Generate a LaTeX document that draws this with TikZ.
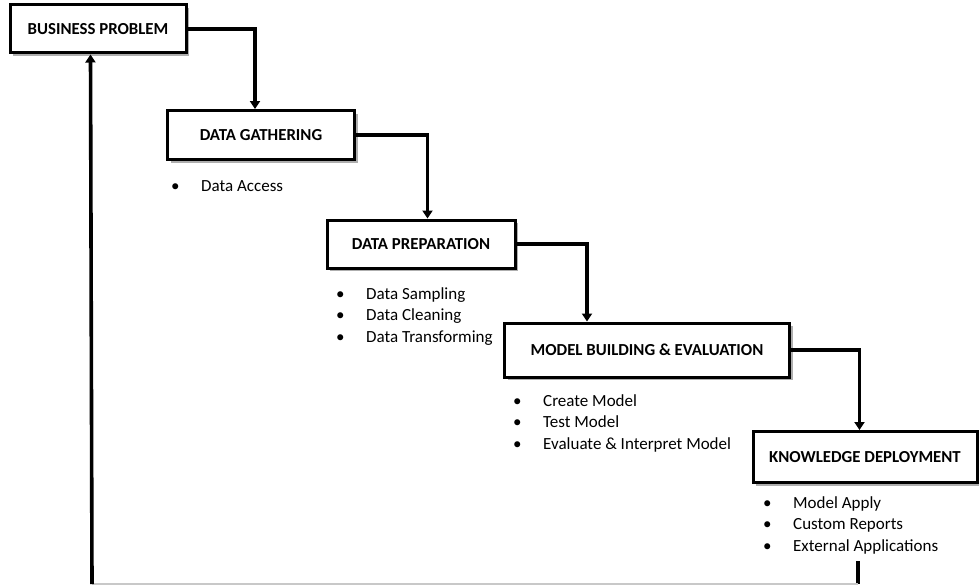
\documentclass[tikz,border=0pt]{standalone}
\usepackage{fontspec}
\setmainfont{Carlito}
\usepackage{tikz}
\usetikzlibrary{arrows.meta,positioning,calc,shadows}
\definecolor{boxshade}{HTML}{9A9A9A}
\definecolor{retgray}{HTML}{C8C8C8}
\newcommand{\bitem}[1]{\makebox[30pt][l]{\textbullet}#1}
\tikzset{stage/.style={draw=black,line width=3pt,fill=white,inner sep=2pt,
  font=\fontsize{16.8}{18}\selectfont\bfseries,
  drop shadow={shadow xshift=3pt,shadow yshift=-3pt,fill=boxshade,opacity=0.8}},
  flow/.style={line width=3.6pt,-{Triangle[length=8pt,width=10pt]}},
  items/.style={anchor=north west,align=left,inner sep=0pt,
  font=\fontsize{17}{21.5}\selectfont}}

\begin{document}
\begin{tikzpicture}[x=1pt,y=-1pt]
 \useasboundingbox (0,0) rectangle (979,586);
 \node[stage,minimum width=176,minimum height=48] (bp) at (98,29) {BUSINESS PROBLEM};
 \node[stage,minimum width=187,minimum height=49] (dg) at (261,135) {DATA GATHERING};
 \node[stage,minimum width=188,minimum height=48] (dp) at (421,244) {DATA PREPARATION};
 \node[stage,minimum width=285,minimum height=54] (mb) at (647,350) {MODEL BUILDING \& EVALUATION};
 \node[stage,minimum width=224,minimum height=51] (kd) at (865,457) {KNOWLEDGE DEPLOYMENT};
 % bullet lists under the boxes
 \node[items] (dgl) at (171,180) {\bitem{Data Access}};
 \node[items] (dpl) at (336,287) {\bitem{Data Sampling}\\\bitem{Data Cleaning}\\\bitem{Data Transforming}};
 \node[items] (mbl) at (513,394) {\bitem{Create Model}\\\bitem{Test Model}\\\bitem{Evaluate \& Interpret Model}};
 \node[items] (kdl) at (763,496) {\bitem{Model Apply}\\\bitem{Custom Reports}\\\bitem{External Applications}};
 % stage to stage
 \draw[flow] (bp.east) -| ([xshift=89pt]dg.north west);
 \draw[flow] (dg.east) -| ([xshift=102pt]dp.north west);
 \draw[flow] (dp.east) -| ([xshift=84pt]mb.north west);
 \draw[flow] (mb.east) -| ([xshift=108pt]kd.north west);
 % return path
 \coordinate (retA) at (858,561);
 \coordinate (retB) at (858,584);
 \coordinate (retC) at (92,584);
 \draw[line width=3.6pt] (retA) -- (retB);
 \draw[retgray,line width=1.5pt] (retB) -- (retC);
 \draw[flow] (retC) -- ([xshift=82pt]bp.south west);
\end{tikzpicture}
\end{document}
